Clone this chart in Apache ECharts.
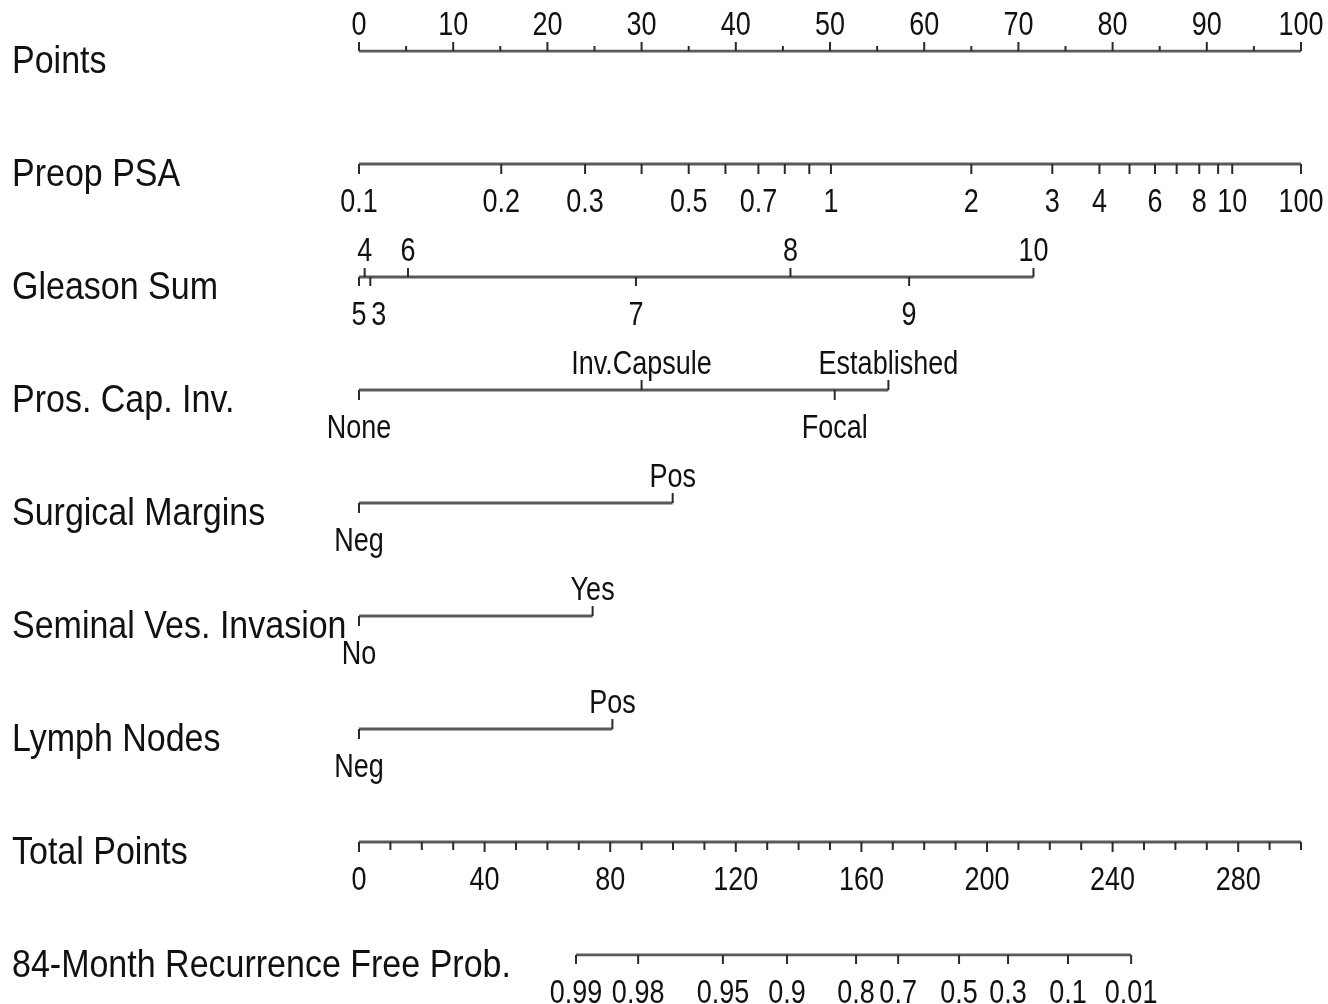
<!DOCTYPE html>
<html>
<head>
<meta charset="utf-8">
<script src="https://cdn.jsdelivr.net/npm/echarts/dist/echarts.min.js"></script>
<style>
html,body{margin:0;padding:0;background:#fff;}
#chart{width:1328px;height:1004px;}
</style>
</head>
<body>
<div id="chart"></div>
<script>
// ---------- data ----------
const rowNames = ['Points', 'Preop PSA', 'Gleason Sum', 'Pros. Cap. Inv.', 'Surgical Margins',
  'Seminal Ves. Invasion', 'Lymph Nodes', 'Total Points', '84-Month Recurrence Free Prob.'];

// Points scale (0-100)
const pointsTicks  = [0, 5, 10, 15, 20, 25, 30, 35, 40, 45, 50, 55, 60, 65, 70, 75, 80, 85, 90, 95, 100];
const pointsLabels = [0, 10, 20, 30, 40, 50, 60, 70, 80, 90, 100];

// Preop PSA: tick label -> points
const psaLabels = ['0.1', '0.2', '0.3', '', '0.5', '', '0.7', '', '', '1', '2', '3', '4', '', '6', '', '8', '', '10', '100'];
const psaPoints = [0, 15.1, 24, 30, 35, 38.9, 42.4, 45.2, 47.8, 50.1, 65, 73.6, 78.6, 81.8, 84.5, 86.8, 89.2, 91.2, 92.7, 100];

// Gleason Sum
const gleasonLabels = ['5', '3', '4', '6', '7', '8', '9', '10'];
const gleasonPoints = [0, 1.2, 0.6, 5.2, 29.4, 45.8, 58.4, 71.6];
const gleasonSides  = ['down', 'down', 'up', 'up', 'down', 'up', 'down', 'up'];

// Prostatic capsular invasion
const capLabels = ['None', 'Inv.Capsule', 'Focal', 'Established'];
const capPoints = [0, 30, 50.5, 56.2];
const capSides  = ['down', 'up', 'down', 'up'];

// Surgical margins
const marginLabels = ['Neg', 'Pos'];
const marginPoints = [0, 33.3];

// Seminal vesicle invasion
const svLabels = ['No', 'Yes'];
const svPoints = [0, 24.8];

// Lymph nodes
const lnLabels = ['Neg', 'Pos'];
const lnPoints = [0, 26.9];

// Total points scale (0-300)
const totalTicks  = [0, 10, 20, 30, 40, 50, 60, 70, 80, 90, 100, 110, 120, 130, 140, 150, 160, 170, 180, 190, 200,
  210, 220, 230, 240, 250, 260, 270, 280, 290, 300];
const totalLabels = [0, 40, 80, 120, 160, 200, 240, 280];

// 84-month recurrence free probability -> total points
const probLabels = ['0.99', '0.98', '0.95', '0.9', '0.8', '0.7', '0.5', '0.3', '0.1', '0.01'];
const probTotals = [69.1, 88.9, 115.9, 136.3, 158.3, 171.7, 191.1, 206.7, 225.8, 245.9];

// ---------- build ----------
const FONT = '"Liberation Sans", Arial, Helvetica, sans-serif';
const TICK_FS = 27;
const TITLE_FS = 34;
const TICK_SCALE_Y = 1.2;
const TITLE_SCALE_Y = 1.12;
const LINE_COLOR = '#5a5a5a';
const TICK_COLOR = '#2a2a2a';

const rows = [];
rows.push({ axis: 0, ticks: pointsTicks.map(v => {
  const major = pointsLabels.indexOf(v) >= 0;
  return { pos: v, label: major ? String(v) : '', side: 'up', len: major ? 9 : 5 };
}) });
rows.push({ axis: 0, ticks: psaPoints.map((v, i) => ({ pos: v, label: psaLabels[i], side: 'down', len: 10 })) });
rows.push({ axis: 0, ticks: gleasonPoints.map((v, i) => ({ pos: v, label: gleasonLabels[i], side: gleasonSides[i], len: 9 })) });
rows.push({ axis: 0, ticks: capPoints.map((v, i) => ({ pos: v, label: capLabels[i], side: capSides[i], len: 10 })) });
rows.push({ axis: 0, ticks: marginPoints.map((v, i) => ({ pos: v, label: marginLabels[i], side: i === 0 ? 'down' : 'up', len: 10 })) });
rows.push({ axis: 0, ticks: svPoints.map((v, i) => ({ pos: v, label: svLabels[i], side: i === 0 ? 'down' : 'up', len: 10 })) });
rows.push({ axis: 0, ticks: lnPoints.map((v, i) => ({ pos: v, label: lnLabels[i], side: i === 0 ? 'down' : 'up', len: 10 })) });
rows.push({ axis: 1, ticks: totalTicks.map(v => {
  const major = totalLabels.indexOf(v) >= 0;
  return { pos: v, label: major ? String(v) : '', side: 'down', len: major ? 10 : 8 };
}) });
rows.push({ axis: 1, ticks: probTotals.map((v, i) => ({ pos: v, label: probLabels[i], side: 'down', len: 9 })) });

// labels that would sit on top of a neighbour on the same side are set to start at their tick
rows.forEach(row => {
  const ticks = row.ticks;
  ticks.forEach(t => { t.align = 'center'; });
  ['up', 'down'].forEach(side => {
    const same = ticks.filter(t => t.side === side && t.label !== '').sort((a, b) => a.pos - b.pos);
    for (let i = 1; i < same.length; i++) {
      if (same[i].pos - same[i - 1].pos < 2) same[i].align = 'left';
    }
  });
});

const series = [];

rows.forEach((row, r) => {
  const positions = row.ticks.map(t => t.pos);
  const lo = Math.min.apply(null, positions);
  const hi = Math.max.apply(null, positions);
  series.push({
    type: 'line',
    xAxisIndex: row.axis,
    yAxisIndex: 0,
    data: [[lo, r], [hi, r]],
    symbol: 'none',
    silent: true,
    lineStyle: { color: LINE_COLOR, width: 3 },
    z: 2
  });
  const ticks = row.ticks;
  series.push({
    type: 'custom',
    xAxisIndex: row.axis,
    yAxisIndex: 0,
    clip: false,
    silent: true,
    z: 3,
    data: ticks.map(t => [t.pos, r]),
    renderItem: function (params, api) {
      const t = ticks[params.dataIndex];
      const p = api.coord([api.value(0), api.value(1)]);
      const dir = t.side === 'up' ? -1 : 1;
      const children = [{
        type: 'line',
        shape: { x1: p[0], y1: p[1], x2: p[0], y2: p[1] + dir * t.len },
        style: { stroke: TICK_COLOR, lineWidth: 2 }
      }];
      if (t.label !== '') {
        children.push({
          type: 'text',
          x: p[0] + (t.align === 'left' ? 1 : 0),
          y: p[1] + (dir < 0 ? -25 : 39),
          scaleY: TICK_SCALE_Y,
          style: {
            x: 0,
            y: 0,
            text: t.label,
            fill: '#111',
            font: TICK_FS + 'px ' + FONT,
            align: t.align,
            verticalAlign: 'middle'
          }
        });
      }
      return { type: 'group', children: children };
    }
  });
});

// row titles on the left
series.push({
  type: 'custom',
  xAxisIndex: 0,
  yAxisIndex: 0,
  clip: false,
  silent: true,
  data: rowNames.map((n, i) => [0, i]),
  renderItem: function (params, api) {
    const p = api.coord([api.value(0), api.value(1)]);
    return {
      type: 'text',
      x: 12,
      y: p[1] + 11,
      scaleY: TITLE_SCALE_Y,
      style: {
        x: 0,
        y: 0,
        text: rowNames[params.dataIndex],
        fill: '#111',
        font: TITLE_FS + 'px ' + FONT,
        align: 'left',
        verticalAlign: 'middle'
      }
    };
  }
});

const chart = echarts.init(document.getElementById('chart'), null, { renderer: 'canvas' });
chart.setOption({
  animation: false,
  backgroundColor: '#ffffff',
  grid: { left: 359, right: 27, top: 51, bottom: 49 },
  xAxis: [
    { type: 'value', min: 0, max: 100, show: false },
    { type: 'value', min: 0, max: 300, show: false }
  ],
  yAxis: [
    { type: 'value', min: 0, max: 8, inverse: true, show: false }
  ],
  series: series
});
</script>
</body>
</html>
